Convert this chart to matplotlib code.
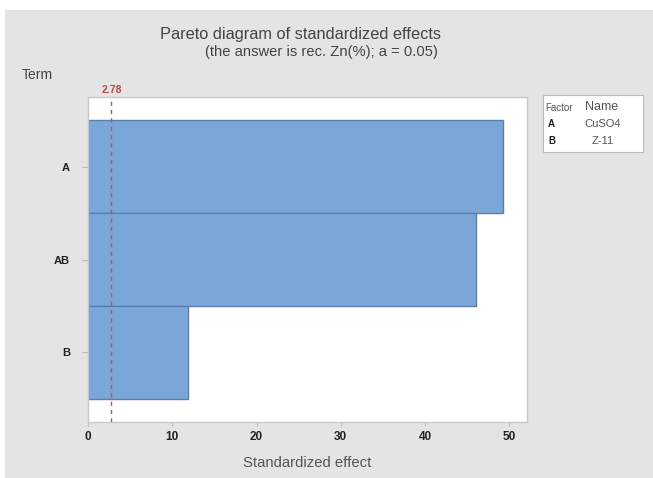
import numpy as np
import matplotlib.pyplot as plt
from matplotlib.patches import Rectangle

# ===== 数据 =====
terms = ['A', 'AB', 'B']
effects = [49.3, 46.1, 11.9]
ref_value = 2.78
factors = ['A', 'B']
factor_names = ['CuSO4', 'Z-11']

plt.rcParams['font.family'] = ['Liberation Sans', 'DejaVu Sans']

W, H = 653, 478
fig = plt.figure(figsize=(W / 100, H / 100), dpi=100)
fig.patch.set_facecolor('white')

# gray panel background
fig.add_artist(Rectangle((5 / W, 0), 1 - 5 / W, 1 - 10 / H, transform=fig.transFigure,
                         facecolor='#e4e4e4', edgecolor='none', zorder=0))

ax = fig.add_axes([88 / W, 1 - 422 / H, (527 - 88) / W, (422 - 97) / H])
ax.set_facecolor('white')

y = np.arange(len(terms))
ax.barh(y, effects, height=1.0, color='#7ba7d8', edgecolor='#5a7fae', linewidth=1.0, zorder=2)
ax.axvline(ref_value, color='#c0504d', linestyle=(0, (3, 3)), linewidth=1.0, zorder=3)

ax.set_xlim(0, 52.1)
ax.set_ylim(len(terms) - 0.25, -0.75)
ax.set_yticks(y)
ax.set_yticklabels(terms, fontsize=8, fontweight='bold', color='#222222')
ax.set_xticks([0, 10, 20, 30, 40, 50])
ax.tick_params(axis='x', labelsize=8.5, colors='#bbbbbb', labelcolor='#222222', length=3)
ax.tick_params(axis='y', colors='#bbbbbb', labelcolor='#222222', length=4, pad=9)
for lab in ax.get_xticklabels():
    lab.set_fontweight('bold')
for s in ax.spines.values():
    s.set_color('#c8c8c8')
    s.set_linewidth(1.0)

ax.set_xlabel('Standardized effect', fontsize=10.7, color='#555555', labelpad=9)

# reference label above axes
ax.text(ref_value, 1.005, f'{ref_value:.2f}', transform=ax.get_xaxis_transform(),
        ha='center', va='bottom', fontsize=7.5, fontweight='bold', color='#b04848')

# titles
fig.text(300 / W, 1 - 35 / H, 'Pareto diagram of standardized effects', ha='center', va='center',
         fontsize=11.8, color='#444444')
fig.text(321 / W, 1 - 52 / H, '(the answer is rec. Zn(%); a = 0.05)', ha='center', va='center',
         fontsize=10.6, color='#444444')
fig.text(22 / W, 1 - 75 / H, 'Term', ha='left', va='center', fontsize=10, color='#444444')

# factor legend box
fig.add_artist(Rectangle((543 / W, 1 - 152 / H), (643 - 543) / W, (152 - 95) / H,
                         transform=fig.transFigure, facecolor='white', edgecolor='#bbbbbb',
                         linewidth=0.8, zorder=1))
fig.text(545 / W, 1 - 108 / H, 'Factor', fontsize=7, color='#555555', va='center')
fig.text(602 / W, 1 - 107 / H, 'Name', fontsize=9, color='#555555', va='center', ha='center')
for i, (f, n) in enumerate(zip(factors, factor_names)):
    yy = 1 - (124 + i * 17) / H
    fig.text(548 / W, yy, f, fontsize=7, fontweight='bold', color='#222222', va='center')
    fig.text(603 / W, yy, n, fontsize=8, color='#555555', va='center', ha='center')

plt.savefig('out.png', dpi=100)
